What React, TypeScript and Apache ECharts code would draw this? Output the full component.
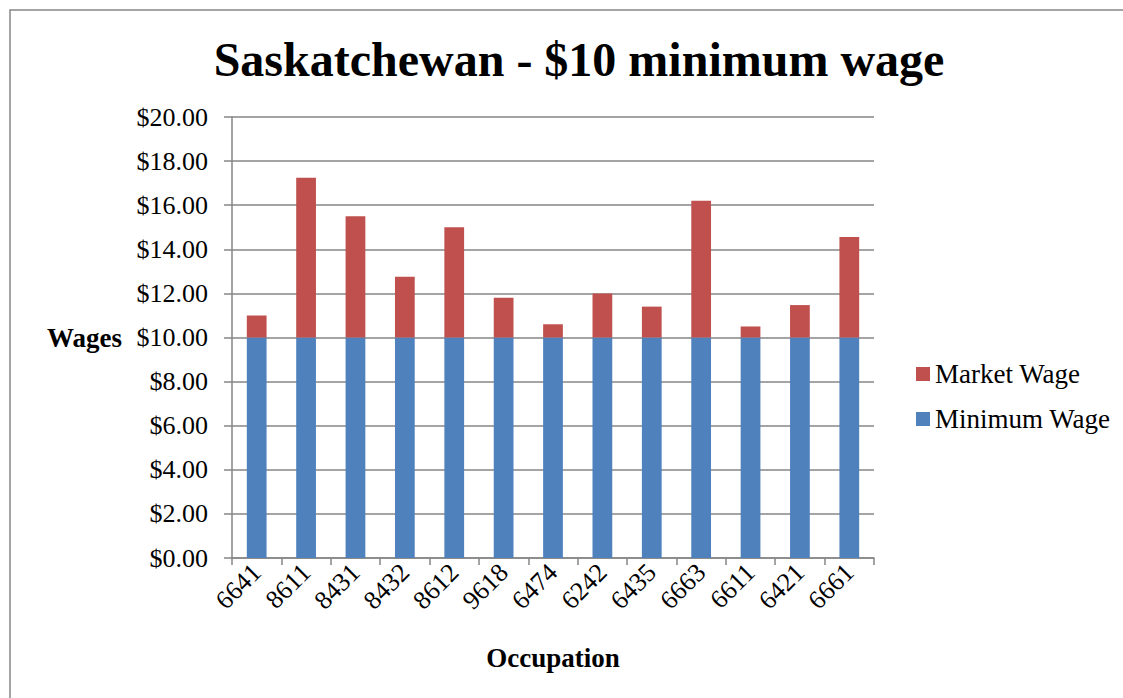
import React, { useEffect, useRef } from "react";
import * as echarts from "echarts";

const categories = ["6641", "8611", "8431", "8432", "8612", "9618", "6474", "6242", "6435", "6663", "6611", "6421", "6661"];
const minimumWage = [10, 10, 10, 10, 10, 10, 10, 10, 10, 10, 10, 10, 10];
const marketWageTotal = [11.0, 17.25, 15.5, 12.75, 15.0, 11.8, 10.6, 12.0, 11.4, 16.2, 10.5, 11.47, 14.56];
const marketWageExtra = marketWageTotal.map((v, i) => +(v - minimumWage[i]).toFixed(2));

const FONT = '"Liberation Serif", "Times New Roman", serif';
const GRAY = "#868686";

export default function App() {
  const ref = useRef<HTMLDivElement>(null);
  useEffect(() => {
    if (!ref.current) return;
    const chart = echarts.init(ref.current, null, { renderer: "svg" });
    chart.setOption({
      animation: false,
      backgroundColor: "#ffffff",
      title: {
        text: "Saskatchewan - $10 minimum wage",
        left: 574,
        top: 30,
        textAlign: "center",
        textStyle: { fontFamily: FONT, fontWeight: "bold", fontSize: 48, color: "#000" },
      },
      graphic: [
        {
          type: "rect",
          shape: { x: 10, y: 10, width: 1300, height: 900 },
          style: { fill: "none", stroke: GRAY, lineWidth: 1.5 },
          silent: true,
        },
      ],
      legend: {
        orient: "vertical",
        left: 916,
        top: 360,
        padding: 0,
        itemWidth: 14,
        itemHeight: 14,
        itemGap: 17,
        icon: "rect",
        data: ["Market Wage", "Minimum Wage"],
        textStyle: { fontFamily: FONT, fontSize: 27, color: "#000", lineHeight: 28 },
      },
      grid: { left: 232, right: 249, top: 117, bottom: 140, containLabel: false },
      xAxis: {
        type: "category",
        data: categories,
        name: "Occupation",
        nameLocation: "middle",
        nameGap: 86,
        nameTextStyle: { fontFamily: FONT, fontWeight: "bold", fontSize: 27, color: "#000" },
        axisLine: { show: true, lineStyle: { color: GRAY, width: 1.5 } },
        axisTick: { show: true, length: 7, alignWithLabel: false, lineStyle: { color: GRAY, width: 1.5 } },
        axisLabel: { rotate: 45, margin: 10, fontFamily: FONT, fontSize: 26, color: "#000", interval: 0 },
      },
      yAxis: {
        type: "value",
        min: 0,
        max: 20,
        interval: 2,
        name: "Wages",
        nameLocation: "middle",
        nameRotate: 0,
        nameGap: 110,
        nameTextStyle: { fontFamily: FONT, fontWeight: "bold", fontSize: 27, color: "#000", align: "right", verticalAlign: "middle" },
        axisLine: { show: true, lineStyle: { color: GRAY, width: 1.5 } },
        axisTick: { show: true, length: 8, lineStyle: { color: GRAY, width: 1.5 } },
        axisLabel: {
          margin: 24,
          fontFamily: FONT,
          fontSize: 26,
          color: "#000",
          formatter: (v: number) => "$" + v.toFixed(2),
        },
        splitLine: { show: true, lineStyle: { color: GRAY, width: 1.5 } },
      },
      series: [
        {
          name: "Minimum Wage",
          type: "bar",
          stack: "w",
          data: minimumWage,
          barWidth: "40%",
          itemStyle: { color: "#4F81BD" },
        },
        {
          name: "Market Wage",
          type: "bar",
          stack: "w",
          data: marketWageExtra,
          barWidth: "40%",
          itemStyle: { color: "#C0504D" },
        },
      ],
    });
    return () => chart.dispose();
  }, []);
  return <div ref={ref} style={{ position: "absolute", left: 0, top: 0, width: 1123, height: 698 }} />;
}
